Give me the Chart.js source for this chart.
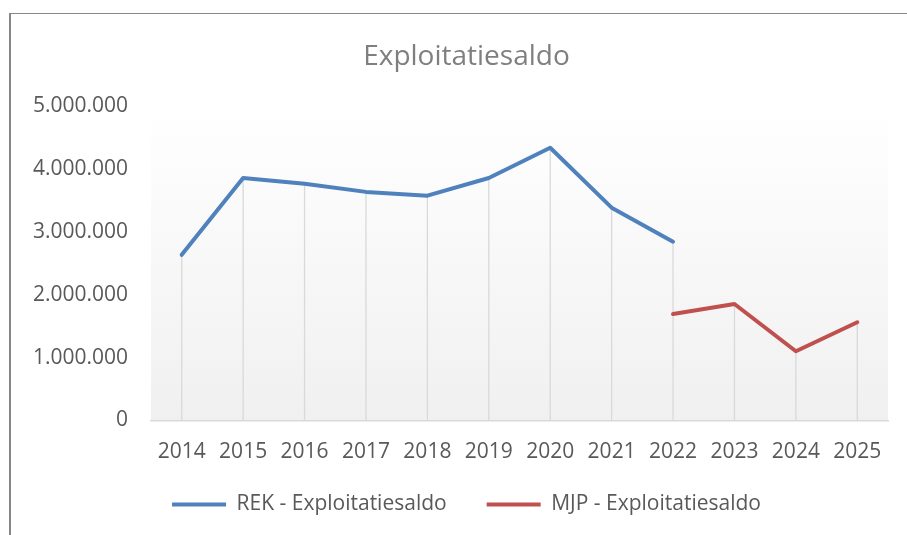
<!DOCTYPE html>
<html>
<head>
<meta charset="utf-8">
<script src="https://cdn.jsdelivr.net/npm/chart.js@4.4.1/dist/chart.umd.min.js"></script>
<style>
  html, body { margin: 0; padding: 0; background: #fff; overflow: hidden; }
  #kader { position: absolute; left: 9px; top: 13px; width: 1200px; height: 900px;
           border-left: 2px solid #878787; border-top: 1.5px solid #878787; }
  #wrap { position: absolute; left: 0; top: 0; width: 907px; height: 535px; }
</style>
</head>
<body>
<div id="kader"></div>
<div id="wrap"><canvas id="saldoChart" width="907" height="535"></canvas></div>
<script>
const jaren = ['2014', '2015', '2016', '2017', '2018', '2019', '2020', '2021', '2022', '2023', '2024', '2025'];
const rekSaldo = [2630000, 3850000, 3760000, 3630000, 3570000, 3850000, 4330000, 3380000, 2840000, null, null, null];
const mjpSaldo = [null, null, null, null, null, null, null, null, 1690000, 1850000, 1100000, 1560000];
const yTicks = [0, 1000000, 2000000, 3000000, 4000000, 5000000];

const lettertype = "'Open Sans', sans-serif";
const tekstKleur = '#595959';

function puntjes(v) {
    return v.toString().replace(/\B(?=(\d{3})+(?!\d))/g, '.');
}

// achtergrond van het plotvlak met een zacht verloop
const plotAchtergrond = {
    id: 'plotAchtergrond',
    beforeDraw(chart) {
        const { ctx, chartArea: a } = chart;
        const grad = ctx.createLinearGradient(0, a.top, 0, a.bottom);
        grad.addColorStop(0, '#ffffff');
        grad.addColorStop(1, '#f0f0f0');
        ctx.save();
        ctx.fillStyle = grad;
        ctx.fillRect(a.left, a.top, a.right - a.left, a.bottom - a.top);
        ctx.restore();
    }
};

// verticale lijnen van elk punt naar de as
const valLijnen = {
    id: 'valLijnen',
    beforeDatasetsDraw(chart) {
        const { ctx, chartArea: a } = chart;
        const hoogste = {};
        chart.data.datasets.forEach((ds, i) => {
            chart.getDatasetMeta(i).data.forEach((pt, j) => {
                if (ds.data[j] == null) return;
                if (hoogste[j] === undefined || pt.y < hoogste[j].y) hoogste[j] = pt;
            });
        });
        ctx.save();
        ctx.strokeStyle = '#d9d9d9';
        ctx.lineWidth = 1.3;
        Object.values(hoogste).forEach(pt => {
            ctx.beginPath();
            ctx.moveTo(pt.x, pt.y);
            ctx.lineTo(pt.x, a.bottom);
            ctx.stroke();
        });
        ctx.restore();
    }
};

// labels van de assen niet afknippen
const geenKnip = {
    id: 'geenKnip',
    afterLayout(chart) {
        chart.scales.y.left = 0;
        chart.scales.x.bottom = chart.height;
    }
};

new Chart(document.getElementById('saldoChart'), {
    type: 'line',
    data: {
        labels: jaren,
        datasets: [{
            label: 'REK - Exploitatiesaldo',
            data: rekSaldo,
            borderColor: '#4f81bd',
            backgroundColor: '#4f81bd',
            borderWidth: 4,
            pointRadius: 0,
            borderCapStyle: 'round',
            borderJoinStyle: 'round',
            spanGaps: false
        }, {
            label: 'MJP - Exploitatiesaldo',
            data: mjpSaldo,
            borderColor: '#c0504d',
            backgroundColor: '#c0504d',
            borderWidth: 4,
            pointRadius: 0,
            borderCapStyle: 'round',
            borderJoinStyle: 'round',
            spanGaps: false
        }]
    },
    options: {
        responsive: false,
        animation: false,
        layout: { padding: { left: 45, right: 19, top: 0, bottom: 10 } },
        plugins: {
            title: {
                display: true,
                text: 'Exploitatiesaldo',
                color: '#7f7f7f',
                font: { family: lettertype, size: 28, weight: 'normal' },
                padding: { top: 40, bottom: 32 }
            },
            legend: {
                position: 'bottom',
                labels: {
                    color: tekstKleur,
                    font: { family: lettertype, size: 21 },
                    boxWidth: 54,
                    boxHeight: 4,
                    padding: 40,
                    generateLabels: chart => Chart.defaults.plugins.legend.labels.generateLabels(chart)
                        .map(l => ({ ...l, lineWidth: 0, fillStyle: l.strokeStyle }))
                }
            },
            tooltip: { enabled: false }
        },
        scales: {
            x: {
                offset: true,
                grid: { display: false, drawTicks: false, offset: true },
                border: { display: true, color: '#d9d9d9', width: 1.5 },
                ticks: { color: tekstKleur, font: { family: lettertype, size: 21 }, padding: 19, maxRotation: 0, autoSkip: false },
                afterFit: s => { s.height = 33.5; }
            },
            y: {
                min: 0,
                max: 5000000,
                grid: { display: false, drawTicks: false },
                border: { display: false },
                afterBuildTicks: s => { s.ticks = yTicks.map(v => ({ value: v })); },
                ticks: { color: tekstKleur, font: { family: lettertype, size: 21 }, padding: 23, callback: v => puntjes(v) },
                afterFit: s => { s.width = 106; }
            }
        }
    },
    plugins: [plotAchtergrond, valLijnen, geenKnip]
});
</script>
</body>
</html>
